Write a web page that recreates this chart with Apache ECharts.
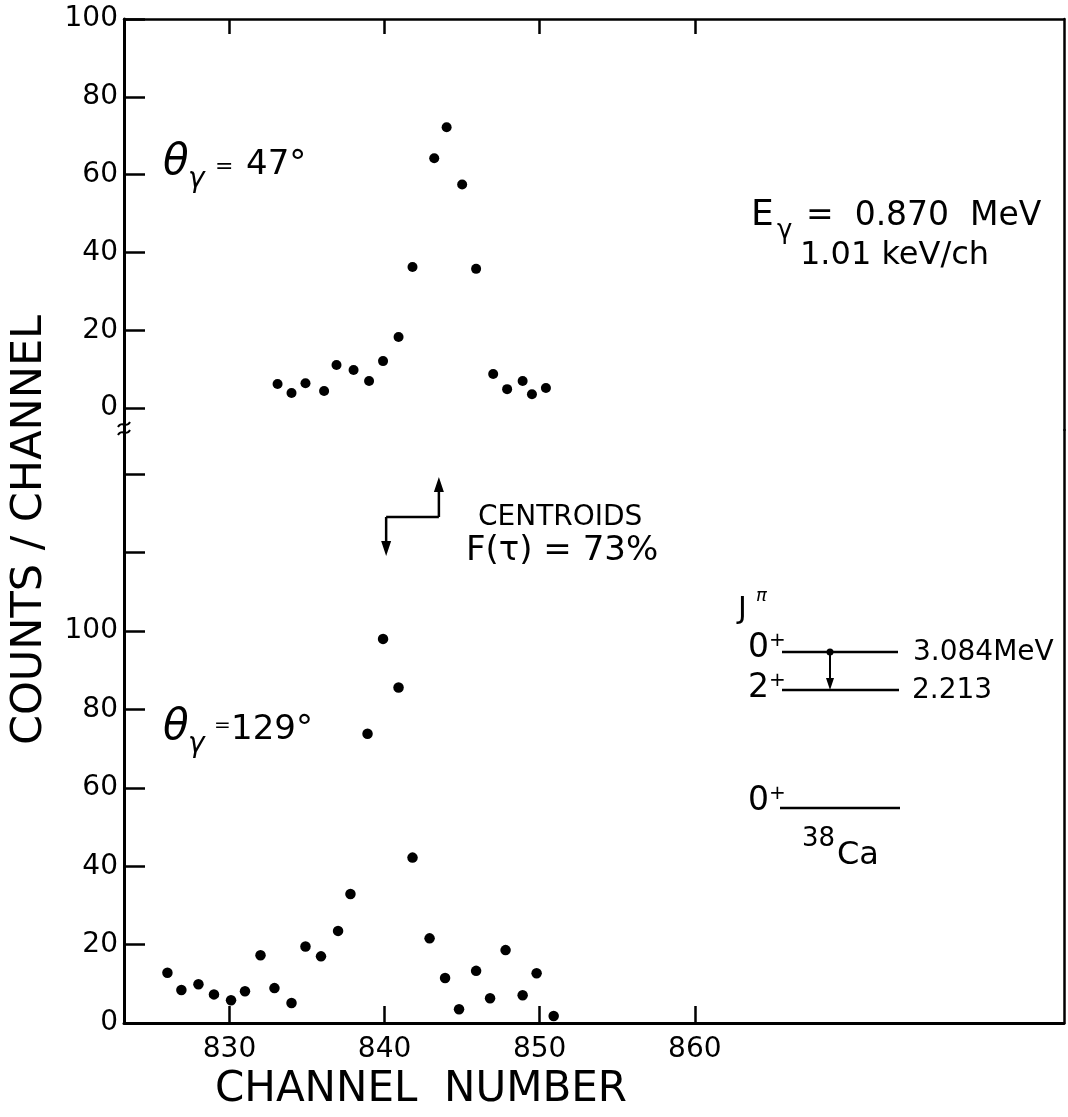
<!DOCTYPE html>
<html><head><meta charset="utf-8">
<script src="https://cdn.jsdelivr.net/npm/echarts@6/dist/echarts.min.js"></script>
<style>html,body{margin:0;padding:0;background:#fff}#c{width:1068px;height:1117px}</style>
</head><body><div id="c"></div>
<script>
// ---- data ----
const channels47 = [833.1, 834.0, 834.9, 836.1, 836.9, 838.0, 839.0, 839.9, 840.9, 841.8, 843.2, 844.0, 845.0, 845.9, 847.0, 847.9, 848.9, 849.5, 850.4];
const counts47   = [6.2, 3.9, 6.4, 4.4, 11.1, 9.8, 7.0, 12.1, 18.3, 36.3, 64.2, 72.2, 57.5, 35.8, 8.8, 4.9, 7.0, 3.6, 5.2];
const channels129 = [826.0, 826.9, 828.0, 829.0, 830.1, 831.0, 832.0, 832.9, 834.0, 834.9, 835.9, 837.0, 837.8, 838.9, 839.9, 840.9, 841.8, 842.9, 843.9, 844.8, 845.9, 846.8, 847.8, 848.9, 849.8, 850.9];
const counts129   = [12.8, 8.4, 9.9, 7.3, 5.8, 8.1, 17.3, 8.9, 5.1, 19.5, 17.0, 23.5, 32.9, 73.8, 98.0, 85.6, 42.2, 21.6, 11.5, 3.5, 13.3, 6.3, 18.6, 7.1, 12.7, 1.8];
const centroids = [840.1, 843.5];          // [129 deg, 47 deg]
const xTicks = [830, 840, 850, 860];
const yTicksUpper = [0, 20, 40, 60, 80, 100];
const yTicksLower = [0, 20, 40, 60, 80, 100, 120, 140];
const yLabelsLower = [0, 20, 40, 60, 80, 100];
const xRange = [823.2, 883.8];
const yRangeUpper = [-5.6, 100];
const yRangeLower = [0, 151.3];

const FONT = 'DejaVu Sans';
const K = '#000';
const chart = echarts.init(document.getElementById('c'), null, {renderer: 'canvas'});

function xAx(grid, pos, showLabel, lw, tlen) {
  return {
    gridIndex: grid, type: 'value', position: pos, min: xRange[0], max: xRange[1],
    axisLine: {show: true, onZero: false, lineStyle: {color: K, width: lw}},
    axisTick: {show: true, inside: true, length: tlen, customValues: xTicks, lineStyle: {color: K, width: 2.5}},
    axisLabel: {show: showLabel, customValues: xTicks, color: K, fontSize: 28, fontFamily: FONT, margin: 13},
    splitLine: {show: false}
  };
}
function yAx(grid, range, ticks, labels) {
  return {
    gridIndex: grid, type: 'value', position: 'left', min: range[0], max: range[1],
    axisLine: {show: true, onZero: false, lineStyle: {color: K, width: 3}},
    axisTick: {show: true, inside: true, length: 21, customValues: ticks, lineStyle: {color: K, width: 2.5}},
    axisLabel: {show: true, customValues: labels, color: K, fontSize: 28, fontFamily: FONT, margin: 6},
    splitLine: {show: false}
  };
}
function yRight(grid, range) {
  return {
    gridIndex: grid, type: 'value', position: 'right', min: range[0], max: range[1],
    axisLine: {show: true, onZero: false, lineStyle: {color: K, width: 2.5}},
    axisTick: {show: false}, axisLabel: {show: false}, splitLine: {show: false}
  };
}

const option = {
  backgroundColor: '#fff',
  animation: false,
  grid: [
    {left: 124, right: 4, top: 19, height: 411},
    {left: 124, right: 4, top: 430, height: 593}
  ],
  xAxis: [xAx(0, 'top', false, 2.5, 15), xAx(1, 'bottom', true, 3, 17)],
  yAxis: [
    yAx(0, yRangeUpper, yTicksUpper, yTicksUpper),
    yRight(0, yRangeUpper),
    yAx(1, yRangeLower, yTicksLower, yLabelsLower),
    yRight(1, yRangeLower)
  ],
  series: [
    {type: 'scatter', xAxisIndex: 0, yAxisIndex: 0, symbolSize: 10, silent: true,
     itemStyle: {color: K, opacity: 1}, data: channels47.map((c, i) => [c, counts47[i]])},
    {type: 'scatter', xAxisIndex: 1, yAxisIndex: 2, symbolSize: 10.5, silent: true,
     itemStyle: {color: K, opacity: 1}, data: channels129.map((c, i) => [c, counts129[i]])}
  ]
};
chart.setOption(option);

// ---- annotations ----
const xc129 = chart.convertToPixel({xAxisIndex: 1}, centroids[0]);
const xc47 = chart.convertToPixel({xAxisIndex: 1}, centroids[1]);

// x = left edge, base = text baseline (converted to a middle anchor)
function txt(x, base, text, size, italic) {
  return {type: 'text', x: x, y: base - 0.34 * size, silent: true,
    style: {text: text, fill: K, font: (italic ? 'italic ' : '') + size + 'px "' + FONT + '"',
      align: 'left', verticalAlign: 'middle'}};
}
function line(x1, y1, x2, y2, w) {
  return {type: 'line', silent: true, shape: {x1, y1, x2, y2}, style: {stroke: K, lineWidth: w || 2.5}};
}
function tri(pts) {
  return {type: 'polygon', silent: true, shape: {points: pts}, style: {fill: K}};
}

const g = [
  // axis break
  {type: 'rect', silent: true, shape: {x: 118, y: 424, width: 14, height: 12}, style: {fill: '#fff'}},
  {type: 'bezierCurve', silent: true, shape: {x1: 118, y1: 427, x2: 130, y2: 422, cpx1: 122, cpy1: 420, cpx2: 126, cpy2: 429}, style: {stroke: K, lineWidth: 2, fill: null}},
  {type: 'bezierCurve', silent: true, shape: {x1: 118, y1: 435, x2: 130, y2: 430, cpx1: 122, cpy1: 428, cpx2: 126, cpy2: 437}, style: {stroke: K, lineWidth: 2, fill: null}},

  // axis titles
  {type: 'text', x: 30, y: 530, rotation: Math.PI / 2, silent: true,
   style: {text: 'COUNTS / CHANNEL', fill: K, font: '43px "' + FONT + '"', align: 'center', verticalAlign: 'middle'}},
  {type: 'text', x: 421, y: 1090, silent: true,
   style: {text: 'CHANNEL  NUMBER', fill: K, font: '42px "' + FONT + '"', align: 'center', verticalAlign: 'middle'}},

  // theta labels
  txt(163, 177, 'θ', 42, true),
  txt(188, 189, 'γ', 28, true),
  txt(215, 175, '=', 22),
  txt(246, 177, '47°', 34),

  txt(163, 742, 'θ', 42, true),
  txt(188, 754, 'γ', 28, true),
  txt(214, 733, '=', 20),
  txt(231, 742, '129°', 34),

  // energy text
  txt(751, 228, 'E', 36),
  txt(777, 240, 'γ', 26),
  txt(806, 228, '=  0.870  MeV', 33),
  txt(800, 267, '1.01 keV/ch', 32),

  // centroid arrows + text
  line(xc129, 517, xc47, 517, 2.5),
  line(xc47, 517, xc47, 488, 2.5),
  tri([[xc47, 477], [xc47 - 5, 492], [xc47 + 5, 492]]),
  line(xc129, 517, xc129, 545, 2.5),
  tri([[xc129, 556], [xc129 - 5, 541], [xc129 + 5, 541]]),
  txt(478, 527, 'CENTROIDS', 28),
  txt(466, 563, 'F(τ) = 73%', 34),

  // level scheme
  txt(738, 620, 'J', 30),
  txt(756, 602, 'π', 18, true),
  txt(748, 660, '0', 33), txt(769, 648, '+', 20),
  line(782, 652, 898, 652, 2.5),
  txt(913, 662, '3.084MeV', 28),
  {type: 'circle', silent: true, shape: {cx: 830, cy: 652, r: 3.5}, style: {fill: K}},
  line(830, 652, 830, 682, 2),
  tri([[830, 690], [826, 678], [834, 678]]),
  txt(748, 700, '2', 33), txt(769, 688, '+', 20),
  line(782, 690, 899, 690, 2.5),
  txt(912, 700, '2.213', 28),
  txt(748, 813, '0', 33), txt(769, 801, '+', 20),
  line(780, 808, 900, 808, 2.5),
  txt(802, 848, '38', 26),
  txt(837, 867, 'Ca', 32)
];
chart.setOption({graphic: g});
</script>
</body></html>
